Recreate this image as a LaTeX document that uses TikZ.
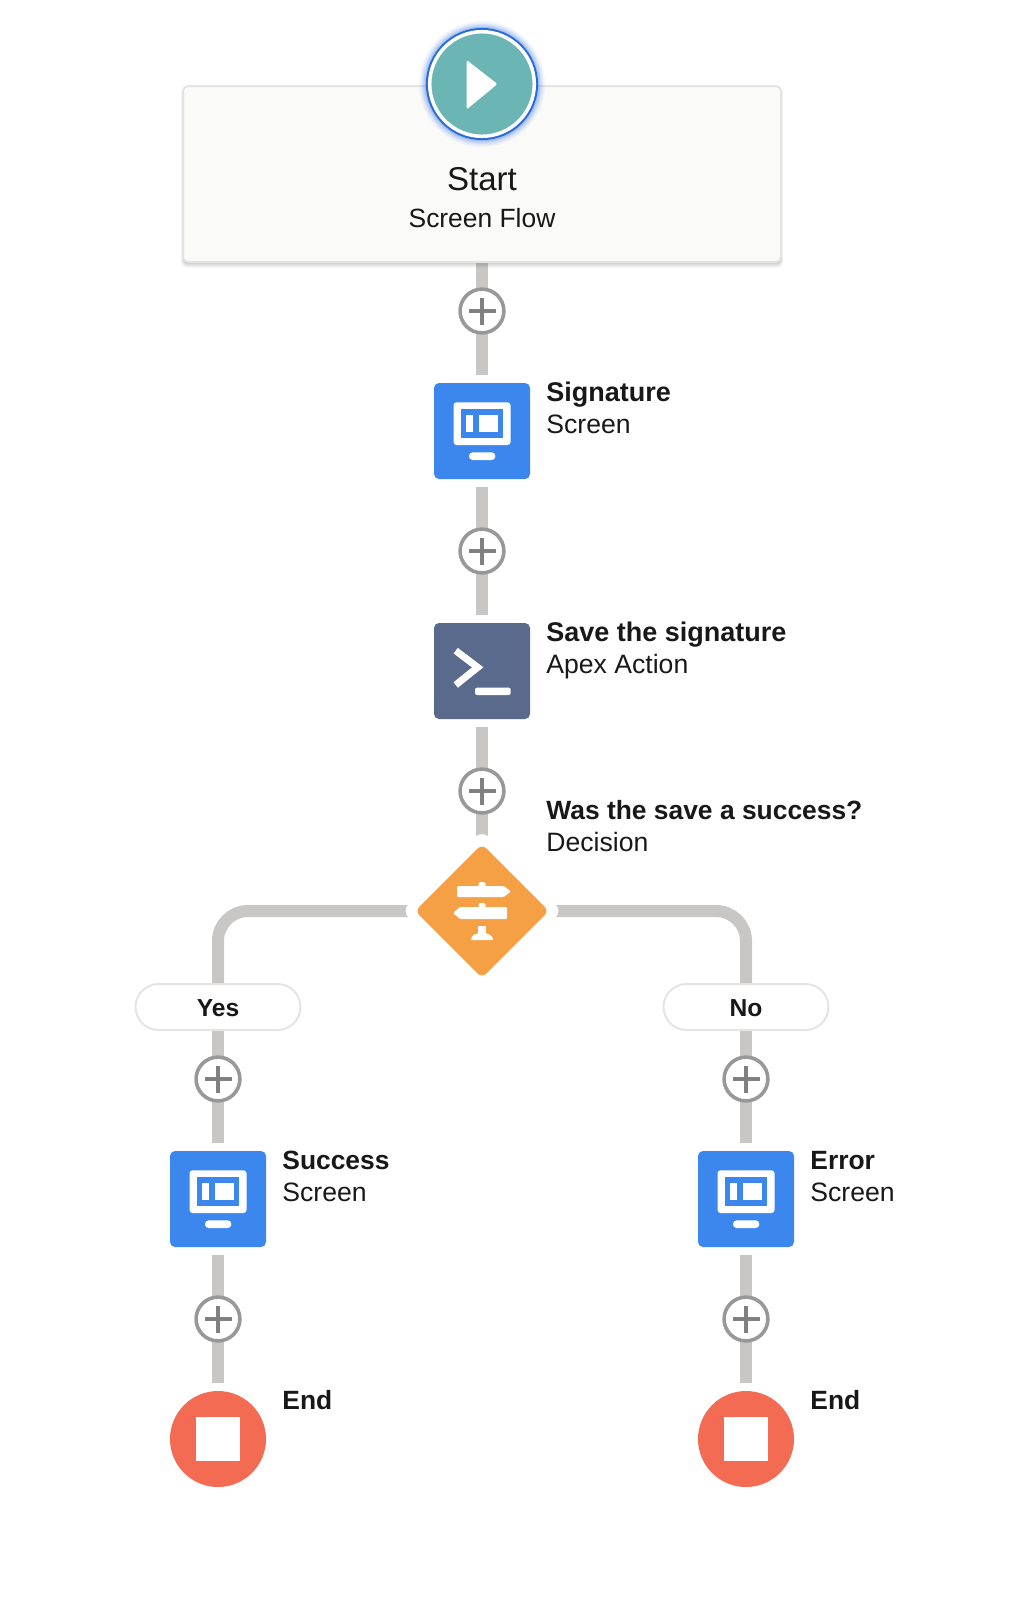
\documentclass[tikz,border=0pt]{standalone}
\usepackage{fontspec}
\setmainfont{Liberation Sans}
\usepackage{tikz}
\usetikzlibrary{shapes.geometric, backgrounds, positioning}

\definecolor{cardfill}{HTML}{FAFAF9}
\definecolor{cardline}{HTML}{E4E4E2}
\definecolor{connline}{HTML}{C8C7C5}
\definecolor{plusring}{HTML}{989898}
\definecolor{pluscross}{HTML}{808080}
\definecolor{starttealc}{HTML}{6BB5B4}
\definecolor{startblue}{HTML}{2A6BD8}
\definecolor{screenblue}{HTML}{3B87EE}
\definecolor{apexslate}{HTML}{5A6A8C}
\definecolor{decisionorange}{HTML}{F5A045}
\definecolor{endred}{HTML}{F26B52}
\definecolor{inktext}{HTML}{181818}

\tikzstyle{startcard} = [rectangle, rounded corners=2.5pt, fill=cardfill, draw=cardline, line width=1pt,
  minimum width=299pt, minimum height=88pt, outer sep=0pt]
\tikzstyle{startbtn} = [circle, minimum size=52.3pt, inner sep=0pt, fill=starttealc, draw=white,
  line width=1.75pt, preaction={draw=startblue, line width=3.75pt}]
\tikzstyle{tilebox} = [rectangle, rounded corners=2.5pt, minimum size=48pt, inner sep=0pt, outer sep=4pt]
\tikzstyle{screentile} = [tilebox, fill=screenblue]
\tikzstyle{apextile} = [tilebox, fill=apexslate]
\tikzstyle{endtile} = [circle, minimum size=48pt, inner sep=0pt, outer sep=4pt, fill=endred]
\tikzstyle{decisiontile} = [diamond, minimum size=67pt, inner sep=0pt, rounded corners=3pt, fill=decisionorange]
\tikzstyle{plusbtn} = [circle, minimum size=21.9pt, inner sep=0pt, outer sep=0pt, fill=white, draw=plusring, line width=1.8pt]
\tikzstyle{crossline} = [draw=pluscross, line width=1.6pt]
\tikzstyle{conn} = [draw=connline, line width=6pt]
\tikzstyle{outcome} = [rectangle, rounded corners=11.5pt, minimum width=82.5pt, minimum height=23pt,
  inner sep=0pt, fill=white, draw=cardline, line width=1pt]
\tikzstyle{outcometext} = [anchor=base, inner sep=0pt, text=inktext, font=\fontsize{12.3}{14}\selectfont\bfseries]
\tikzstyle{titletext} = [anchor=base west, inner sep=0pt, text=inktext, font=\fontsize{13.2}{16}\selectfont\bfseries]
\tikzstyle{widetitle} = [titletext, font=\fontsize{13.5}{16}\selectfont\bfseries]
\tikzstyle{subtext} = [anchor=base west, inner sep=0pt, text=inktext, font=\fontsize{13.3}{16}\selectfont]

% monitor glyph, drawn round a tile
\newcommand{\screenglyph}[1]{
  \begin{scope}[shift={(#1.center)}]
    \fill[white, rounded corners=1.5pt] (-28.5,-28.7) rectangle (28.5,14);
    \fill[screenblue] (-21.3,-21.7) rectangle (21.3,7);
    \fill[white] (-16,-16) rectangle (-8.7,1);
    \fill[white] (-2.7,-16) rectangle (16,1);
    \fill[white, rounded corners=1.8pt] (-13,21.3) rectangle (13.3,29);
  \end{scope}
}
\newcommand{\plusbutton}[2]{
  \node[plusbtn] (#1) at (#2) {};
  \draw[crossline] ([xshift=-6.75pt]#1.center) -- ([xshift=6.75pt]#1.center);
  \draw[crossline] ([yshift=-6.75pt]#1.center) -- ([yshift=6.75pt]#1.center);
}

\begin{document}
\begin{tikzpicture}[x=0.5pt, y=-0.5pt]
  \useasboundingbox (0,0) rectangle (1036,1602);

  % start card
  \node[startcard] (start) at (482,174) {};
  \coordinate (startc) at (482,84);
  \foreach \rr/\oo in {63/0.05, 61.5/0.07, 60/0.10, 58.5/0.14, 57/0.18} {
    \fill[startblue, opacity=\oo] (startc) circle (\rr);
  }
  \node[startbtn] (startb) at (startc) {};
  \fill[white, rounded corners=1pt] (466.6,60) -- (497.4,84) -- (466.6,109.5) -- cycle;
  \node[anchor=base, inner sep=0pt, text=inktext, font=\fontsize{16.5}{18}\selectfont] (startname) at (482,190) {Start};
  \node[anchor=base, inner sep=0pt, text=inktext, font=\fontsize{13.2}{16}\selectfont] (startkind) at (482,227.5) {Screen Flow};

  % main column
  \plusbutton{plusa}{482,311}
  \node[screentile] (signature) at (482,431) {};
  \screenglyph{signature}
  \plusbutton{plusb}{482,551}
  \node[apextile] (apex) at (482,671) {};
  \begin{scope}[shift={(apex.center)}]
    \draw[white, line width=3.5pt] (-26.3,-20.3) -- (-4.3,-3.7) -- (-26.3,14);
    \fill[white, rounded corners=1pt] (-7,16.7) rectangle (28.7,24);
  \end{scope}
  \plusbutton{plusc}{482,791}
  \node[decisiontile] (decision) at (482,911) {};
  \begin{scope}[shift={(decision.center)}]
    \fill[white, rounded corners=0.8pt] (-3.5,-29) rectangle (3.5,-22);
    \fill[white, rounded corners=0.5pt] (-25,-25) -- (21.6,-25) -- (29,-19.5) -- (21.6,-14) -- (-25,-14) -- cycle;
    \fill[white, rounded corners=0.8pt] (-3.5,-8) rectangle (3.5,-1);
    \fill[white, rounded corners=0.5pt] (25,-4) -- (-22,-4) -- (-29,2) -- (-22,8) -- (25,8) -- cycle;
    \fill[white] (-4,15) rectangle (4,25);
    \fill[white] (-11,29) .. controls (-11,24) and (-6,22) .. (0,22) .. controls (6,22) and (11,24) .. (11,29) -- cycle;
  \end{scope}

  % left branch
  \node[outcome] (yes) at (218,1007) {};
  \node[outcometext] (yestext) at (218,1016) {Yes};
  \plusbutton{plusd}{218,1079}
  \node[screentile] (success) at (218,1199) {};
  \screenglyph{success}
  \plusbutton{pluse}{218,1319}
  \node[endtile] (endl) at (218,1439) {};
  \fill[white] ([shift={(-22,-22)}]endl.center) rectangle ([shift={(22,22)}]endl.center);

  % right branch
  \node[outcome] (no) at (746,1007) {};
  \node[outcometext] (notext) at (746,1016) {No};
  \plusbutton{plusf}{746,1079}
  \node[screentile] (error) at (746,1199) {};
  \screenglyph{error}
  \plusbutton{plusg}{746,1319}
  \node[endtile] (endr) at (746,1439) {};
  \fill[white] ([shift={(-22,-22)}]endr.center) rectangle ([shift={(22,22)}]endr.center);

  % connectors
  \begin{scope}[on background layer]
    \draw[conn] (start.south) -- (plusa) -- (signature.north);
    \draw[conn] (signature.south) -- (plusb) -- (apex.north);
    \draw[conn] (apex.south) -- (plusc) -- (decision.center);
    \draw[conn, rounded corners=15pt] (decision.center) -| (yes.north);
    \draw[conn, rounded corners=15pt] (decision.center) -| (no.north);
    \draw[conn] (yes.south) -- (plusd) -- (success.north);
    \draw[conn] (success.south) -- (pluse) -- (endl.north);
    \draw[conn] (no.south) -- (plusf) -- (error.north);
    \draw[conn] (error.south) -- (plusg) -- (endr.north);
    \fill[white] (decision.north) circle (9.5);
    \fill[white] (decision.west) circle (9);
    \fill[white] (decision.east) circle (9);
    % soft shadow under the card
    \foreach \gg/\oo in {3.5/0.05, 2.5/0.06, 1.5/0.08, 0.75/0.10} {
      \fill[black, opacity=\oo, rounded corners=3pt]
        ([shift={(-\gg/2,\gg/2)}]start.north west) rectangle ([shift={(\gg/2,\gg*1.6)}]start.south east);
    }
  \end{scope}

  % labels
  \node[widetitle] (signaturename) at (546,401) {Signature};
  \node[subtext] (signaturekind) at (546,433) {Screen};
  \node[widetitle] (apexname) at (546,641) {Save the signature};
  \node[subtext] (apexkind) at (546,673) {Apex Action};
  \node[titletext] (decisionname) at (546,819) {Was the save a success?};
  \node[subtext] (decisionkind) at (546,851) {Decision};
  \node[titletext] (successname) at (282,1169) {Success};
  \node[subtext] (successkind) at (282,1201) {Screen};
  \node[titletext] (errorname) at (810,1169) {Error};
  \node[subtext] (errorkind) at (810,1201) {Screen};
  \node[titletext] (endlname) at (282,1409) {End};
  \node[titletext] (endrname) at (810,1409) {End};
\end{tikzpicture}
\end{document}
